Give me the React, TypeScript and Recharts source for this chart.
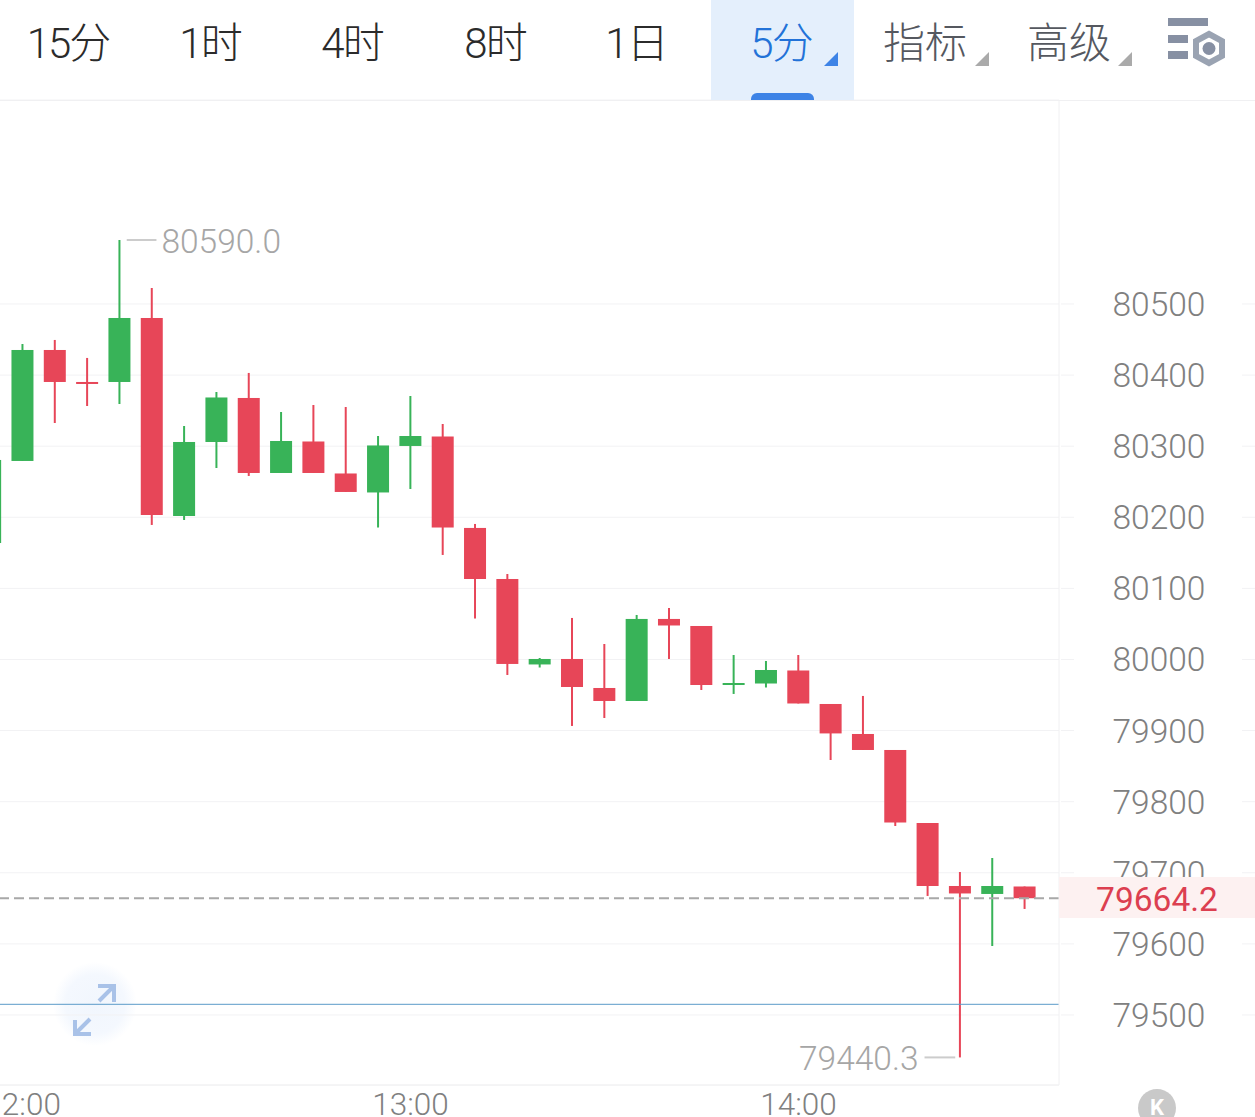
import { ComposedChart, Bar, XAxis, YAxis, CartesianGrid, ReferenceLine } from "recharts";

const FONT = 'Roboto, "Noto Sans CJK SC", sans-serif';
const UP = "#38b358";
const DOWN = "#e74658";
const GRID = "#f2f2f4";
const AXIS_TEXT = "#808080";
const MARK_TEXT = "#a6a6a6";

// candle slot, 12 slots per hour, slot 0 is 12:00
const slots = [-1, 0, 1, 2, 3, 4, 5, 6, 7, 8, 9, 10, 11, 12, 13, 14, 15, 16, 17, 18, 19, 20, 21, 22, 23, 24, 25, 26, 27, 28, 29, 30, 31];
const opens = [80163.8, 80279.2, 80435.3, 80390.3, 80390.3, 80480.3, 80201.8, 80305.9, 80367.8, 80262.3, 80306.6, 80261.6, 80234.9, 80300.3, 80313.6, 80185, 80113.2, 79993, 80000.7, 79959.9, 79941.6, 80057, 80047.1, 79966.2, 79966.2, 79984.5, 79937.4, 79895.2, 79872.7, 79770, 79681.4, 79670.2, 79680.7];
const closes = [80280.6, 80435.3, 80390.3, 80389.6, 80480.3, 80203.2, 80305.9, 80368.5, 80262.3, 80307.3, 80262.3, 80235.6, 80301, 80314.3, 80185.6, 80113.2, 79993.7, 80000.7, 79961.3, 79941.6, 80057, 80047.8, 79964.1, 79966.9, 79985.2, 79938.1, 79896, 79872.7, 79770.7, 79681.4, 79670.9, 79681.4, 79664.2];
const highs = [80280.6, 80443.7, 80449.4, 80424.1, 80590, 80522.5, 80328.4, 80376.2, 80403, 80348.1, 80357.9, 80355.1, 80314.3, 80370.6, 80331.2, 80190.6, 80120.2, 80002.1, 80058.4, 80021.8, 80062.6, 80072.4, 80047.1, 80006.3, 79997.9, 80006.3, 79937.4, 79948.7, 79872.7, 79770, 79701.1, 79720.8, 79680.7];
const lows = [80163.8, 80279.2, 80332.6, 80356.5, 80359.3, 80189.2, 80196.2, 80269.3, 80258.1, 80262.3, 80262.3, 80235.6, 80185.6, 80239.8, 80147, 80057.6, 79978.2, 79988.7, 79906.5, 79917.7, 79941.6, 80000.7, 79957.1, 79951.5, 79960.6, 79938.1, 79858.6, 79872.7, 79765.8, 79667.4, 79440.3, 79597, 79649.1];

const priceTicks = [79500, 79600, 79700, 79800, 79900, 80000, 80100, 80200, 80300, 80400, 80500];
const timeTicks = [0, 12, 24];
const timeLabels = ["12:00", "13:00", "14:00"];

const lastPrice = 79664.2;
const bluePrice = 79515;
const maxPrice = 80590;
const minPrice = 79440.3;

const tabDigits = ["15", "1", "4", "8", "1", "5", "", ""];
const tabWords = ["分", "时", "时", "时", "日", "分", "指标", "高级"];
const tabCenters = [69, 211, 353, 496, 637, 782, 925, 1069];

const candles = slots.map((slot, i) => ({
  slot,
  open: opens[i],
  close: closes[i],
  high: highs[i],
  low: lows[i],
  range: [lows[i], highs[i]],
}));

function Candle(props: any) {
  const { x, y, width, height, payload } = props;
  const color = payload.close >= payload.open ? UP : DOWN;
  const perUnit = height / (payload.high - payload.low);
  const top = y + (payload.high - Math.max(payload.open, payload.close)) * perUnit;
  const bottom = y + (payload.high - Math.min(payload.open, payload.close)) * perUnit;
  const center = x + width / 2;
  return (
    <g>
      <line x1={center} x2={center} y1={y} y2={y + height} stroke={color} strokeWidth={2} />
      <rect x={x} y={top} width={width} height={Math.max(bottom - top, 2)} fill={color} />
    </g>
  );
}

function PriceTick(props: any) {
  const { x, y, payload } = props;
  return (
    <g>
      <line x1={x} x2={x + 13} y1={y} y2={y} stroke={GRID} />
      <line x1={x + 181} x2={x + 196} y1={y} y2={y} stroke={GRID} />
      <text x={x + 98} y={y + 12} textAnchor="middle" fontSize={33.5} fontWeight={300} fontFamily={FONT} fill={AXIS_TEXT}>
        {payload.value}
      </text>
    </g>
  );
}

function MaxLabel(props: any) {
  const { viewBox } = props;
  return (
    <text x={viewBox.x + viewBox.width + 5} y={viewBox.y + 13} fontSize={33.5} fontWeight={300} fontFamily={FONT} fill={MARK_TEXT}>
      {maxPrice.toFixed(1)}
    </text>
  );
}

function MinLabel(props: any) {
  const { viewBox } = props;
  return (
    <text x={viewBox.x - 6} y={viewBox.y + 13} textAnchor="end" fontSize={33.5} fontWeight={300} fontFamily={FONT} fill={MARK_TEXT}>
      {minPrice.toFixed(1)}
    </text>
  );
}

function Toolbar() {
  return (
    <div style={{ position: "absolute", left: 0, top: 0, width: 1255, height: 100, borderBottom: "1px solid #f0f0f2" }}>
      <div style={{ position: "absolute", left: 711, top: 0, width: 143, height: 100, background: "#e4effc" }} />
      <div style={{ position: "absolute", left: 751, top: 93, width: 63, height: 7, background: "#3d83e6", borderRadius: "6px 6px 0 0" }} />
      {tabWords.map((word, i) => (
        <div
          key={i}
          style={{
            position: "absolute",
            left: tabCenters[i] - 70,
            width: 140,
            top: 15,
            textAlign: "center",
            fontFamily: FONT,
            fontSize: 42,
            fontWeight: 300,
            lineHeight: "58px",
            color: i === 5 ? "#2272d8" : i > 5 ? "#55585f" : "#2b2b2b",
          }}
        >
          <span style={{ letterSpacing: -2 }}>{tabDigits[i]}</span>
          {word}
        </div>
      ))}
      <svg width={1255} height={100} style={{ position: "absolute", left: 0, top: 0 }}>
        <polygon points="824,66 838,66 838,52" fill="#3d83e6" />
        <polygon points="975,66 989,66 989,52" fill="#aaaaaa" />
        <polygon points="1118,66 1132,66 1132,52" fill="#aaaaaa" />
        <rect x={1168} y={18} width={40} height={8} fill="#8790a3" />
        <rect x={1168} y={35} width={20} height={8} fill="#8790a3" />
        <rect x={1168} y={51} width={20} height={8} fill="#8790a3" />
        <polygon points="1209,34 1222,41 1222,56 1209,63 1196,56 1196,41" fill="#ffffff" stroke="#9aa3b2" strokeWidth={6} />
        <circle cx={1209} cy={48.5} r={6.5} fill="#8790a3" />
      </svg>
    </div>
  );
}

function ExpandIcon() {
  return (
    <svg width={150} height={100} style={{ position: "absolute", left: 20, top: 955 }}>
      <defs>
        <radialGradient id="glow">
          <stop offset="0%" stopColor="#f1f6fd" />
          <stop offset="70%" stopColor="#f4f8fe" />
          <stop offset="100%" stopColor="#ffffff" />
        </radialGradient>
      </defs>
      <circle cx={75} cy={49} r={42} fill="url(#glow)" />
    </svg>
  );
}

function ExpandArrows() {
  return (
    <svg width={150} height={100} style={{ position: "absolute", left: 20, top: 955 }}>
      <path d="M78 31 L94 31 L94 47 M94 31 L79 46" fill="none" stroke="#a9c2e8" strokeWidth={4} />
      <path d="M55 65 L55 79 L71 79 M55 79 L70 64" fill="none" stroke="#a9c2e8" strokeWidth={4} />
    </svg>
  );
}

// sits over the axis so it hides the lower half of the 79700 tick
function LastPriceTag() {
  return (
    <svg width={196} height={41} style={{ position: "absolute", left: 1059, top: 877 }}>
      <rect width={196} height={41} fill="#fdf1f1" />
      <text x={98} y={34} textAnchor="middle" fontSize={33.5} fontFamily={FONT} fill="#dc3f50">
        {lastPrice}
      </text>
    </svg>
  );
}

export default function App() {
  return (
    <div style={{ position: "absolute", left: 0, top: 0, width: 1255, height: 1117, overflow: "hidden", background: "#fff" }}>
      <ExpandIcon />
      <div style={{ position: "absolute", left: 0, top: 0 }}>
        <ComposedChart width={1255} height={1117} data={candles} margin={{ top: 100, right: 0, bottom: 0, left: 0 }}>
          <CartesianGrid horizontal vertical={false} stroke={GRID} />
          <XAxis
            dataKey="slot"
            type="number"
            domain={[-0.7, 32.06]}
            allowDataOverflow
            ticks={timeTicks}
            interval={0}
            height={32}
            tickLine={false}
            tickSize={0}
            tickMargin={8}
            axisLine={{ stroke: "#f0f0f2" }}
            tick={{ fontSize: 31.5, fontWeight: 300, fontFamily: FONT, fill: AXIS_TEXT }}
            tickFormatter={(v: number) => timeLabels[timeTicks.indexOf(v)]}
          />
          <YAxis
            orientation="right"
            type="number"
            domain={[79401.5, 80786.9]}
            allowDataOverflow
            ticks={priceTicks}
            interval={0}
            width={196}
            tickLine={false}
            tickSize={0}
            axisLine={{ stroke: "#f0f0f2" }}
            tick={<PriceTick />}
          />
          <ReferenceLine y={bluePrice} stroke="#5a9ac8" strokeWidth={1} />
          <Bar dataKey="range" barSize={22} shape={<Candle />} isAnimationActive={false} />
          <ReferenceLine y={lastPrice} stroke="#a8a8a8" strokeWidth={2} strokeDasharray="10 5" />
          <ReferenceLine
            segment={[{ x: 3.22, y: maxPrice }, { x: 4.14, y: maxPrice }]}
            stroke="#cccccc"
            strokeWidth={2}
            label={<MaxLabel />}
          />
          <ReferenceLine
            segment={[{ x: 27.9, y: minPrice }, { x: 28.85, y: minPrice }]}
            stroke="#cccccc"
            strokeWidth={2}
            label={<MinLabel />}
          />
        </ComposedChart>
      </div>
      <ExpandArrows />
      <LastPriceTag />
      <Toolbar />
      <div
        style={{
          position: "absolute",
          left: 1138,
          top: 1089,
          width: 38,
          height: 38,
          borderRadius: 19,
          background: "#c9c9c9",
          color: "#fff",
          fontFamily: FONT,
          fontWeight: 700,
          fontSize: 22,
          lineHeight: "38px",
          textAlign: "center",
        }}
      >
        K
      </div>
    </div>
  );
}
